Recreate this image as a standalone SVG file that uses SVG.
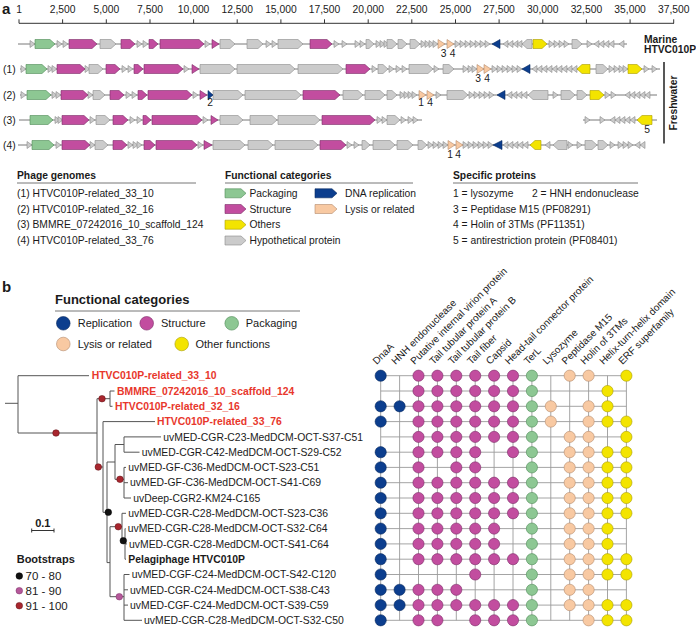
<svg xmlns="http://www.w3.org/2000/svg" xmlns:xlink="http://www.w3.org/1999/xlink" width="696" height="628" viewBox="0 0 696 628">
<style>
text{font-family:"Liberation Sans",Arial,sans-serif;fill:#1a1a1a}
.a{font-size:10.3px}
.ab{font-size:10.3px;font-weight:bold}
.pk{fill:#8dc793;stroke:#4e8a56;stroke-width:.6}
.st{fill:#c24d9f;stroke:#7a2c66;stroke-width:.6}
.hy{fill:#cbcbcb;stroke:#8a8a8a;stroke-width:.6}
.ot{fill:#f3e400;stroke:#a89c00;stroke-width:.6}
.dr{fill:#0c3e8e;stroke:#06295e;stroke-width:.6}
.ly{fill:#f8c9a2;stroke:#b38a6c;stroke-width:.6}
.bb{stroke:#555;stroke-width:.8}
.ax{stroke:#333;stroke-width:1;fill:none}
.tr{stroke:#555;stroke-width:1;fill:none}
.tl{font-size:10.4px}
.red{fill:#e8372c;font-weight:bold}
.grid{stroke:#9a9a9a;stroke-width:.9}
.hd{font-size:10px}
.ul{stroke:#777;stroke-width:1}
</style>
<defs>
<path id="tR" d="M0-3.5L5 0L0 3.5Z"/>
<path id="tL" d="M5-3.5L0 0L5 3.5Z"/>
<circle id="R" r="5.6" fill="#0c3e8e" stroke="#06295e" stroke-width=".6"/>
<circle id="S" r="5.6" fill="#c24d9f" stroke="#7a2c66" stroke-width=".6"/>
<circle id="P" r="5.6" fill="#8dc793" stroke="#4e8a56" stroke-width=".6"/>
<circle id="L" r="5.6" fill="#f8c9a2" stroke="#b38a6c" stroke-width=".6"/>
<circle id="O" r="5.6" fill="#f3e400" stroke="#a89c00" stroke-width=".6"/>
<circle id="b1" r="3.3" fill="#111" stroke="#000" stroke-width=".5"/>
<circle id="b2" r="3.3" fill="#b5589a" stroke="#7a2c66" stroke-width=".5"/>
<circle id="b3" r="3.3" fill="#a8262e" stroke="#5e1015" stroke-width=".5"/>
</defs>
<rect width="696" height="628" fill="#fff"/>

<!-- Panel a -->
<text x="2" y="14" style="font-size:15px;font-weight:bold">a</text>
<g id="axis">
<path class="ax" d="M19 23.3H674M19 19.3V23.3M62.6 19.3V23.3M106.3 19.3V23.3M150 19.3V23.3M193.6 19.3V23.3M237.2 19.3V23.3M280.9 19.3V23.3M324.5 19.3V23.3M368.2 19.3V23.3M411.8 19.3V23.3M455.5 19.3V23.3M499.1 19.3V23.3M542.8 19.3V23.3M586.4 19.3V23.3M630.1 19.3V23.3M673.7 19.3V23.3"/>
<g class="a" text-anchor="middle">
<text x="19" y="13">1</text><text x="62.6" y="13">2,500</text><text x="106.3" y="13">5,000</text><text x="150" y="13">7,500</text><text x="193.6" y="13">10,000</text><text x="237.2" y="13">12,500</text><text x="280.9" y="13">15,000</text><text x="324.5" y="13">17,500</text><text x="368.2" y="13">20,000</text><text x="411.8" y="13">22,500</text><text x="455.5" y="13">25,000</text><text x="499.1" y="13">27,500</text><text x="542.8" y="13">30,000</text><text x="586.4" y="13">32,500</text><text x="630.1" y="13">35,000</text><text x="673.7" y="13">37,500</text>
</g>
</g>

<g id="genome-marine" transform="translate(0,44)">
<path class="bb" d="M18 0H627"/>
<g class="hy">
<use href="#tR" x="30"/><use href="#tR" x="57"/><use href="#tR" x="63"/><use href="#tR" x="137"/><use href="#tR" x="143"/><use href="#tR" x="205"/><use href="#tR" x="266"/><use href="#tR" x="272"/><use href="#tR" x="334"/><use href="#tR" x="342"/><use href="#tR" x="355"/><use href="#tR" x="360"/><use href="#tR" x="376"/><use href="#tR" x="380"/><use href="#tR" x="384"/><use href="#tR" x="421"/><use href="#tR" x="425"/><use href="#tR" x="429"/><use href="#tR" x="433"/><use href="#tR" x="455"/><use href="#tR" x="460"/><use href="#tR" x="465"/><use href="#tR" x="470"/><use href="#tR" x="475"/><use href="#tR" x="480"/><use href="#tR" x="485"/>
<use href="#tL" x="503"/><use href="#tL" x="508"/><use href="#tL" x="513"/><use href="#tL" x="517"/>
<use href="#tR" x="549"/><use href="#tR" x="554"/><use href="#tR" x="559"/><use href="#tR" x="564"/><use href="#tR" x="587"/>
<use href="#tL" x="594"/><use href="#tL" x="599"/><use href="#tL" x="604"/><use href="#tL" x="609"/><use href="#tL" x="619"/>
<path d="M100-4.5H111L116 0L111 4.5H100Z"/>
<path d="M220-4.5H230L235 0L230 4.5H220Z"/>
<path d="M247-4.5H258L263 0L258 4.5H247Z"/>
<path d="M278-4.5H298L303 0L298 4.5H278Z"/>
<path d="M366-4.5H369L374 0L369 4.5H366Z"/>
<path d="M387-4.5H392L397 0L392 4.5H387Z"/>
<path d="M398-4.5H402L407 0L402 4.5H398Z"/>
<path d="M410-4.5H415L420 0L415 4.5H410Z"/>
<path d="M532-4.5H527L522 0L527 4.5H532Z"/>
<path d="M572-4.5H577L582 0L577 4.5H572Z"/>
</g>
<path class="pk" d="M35-4.5H50L55 0L50 4.5H35Z"/>
<path class="st" d="M69-4.5H92L97 0L92 4.5H69Z"/>
<path class="st" d="M121-4.5H130L135 0L130 4.5H121Z"/>
<path class="st" d="M149-4.5H153L158 0L153 4.5H149Z"/>
<path class="st" d="M160-4.5H199L204 0L199 4.5H160Z"/>
<path class="st" d="M212-4.5L219 0L212 4.5Z"/>
<path class="st" d="M310-4.5H327L332 0L327 4.5H310Z"/>
<path class="ly" d="M438-4.5L445 0L438 4.5Z"/>
<path class="ly" d="M447-4.5L454 0L447 4.5Z"/>
<path class="dr" d="M500-4.5L492 0L500 4.5Z"/>
<path class="ot" d="M533-4.5H542L547 0L542 4.5H533Z"/>
<text class="a" x="443.5" y="13" text-anchor="middle">3</text><text class="a" x="452.5" y="13" text-anchor="middle">4</text>
</g>

<g id="genome-1" transform="translate(0,69)">
<path class="bb" d="M20 0H660"/>
<g class="hy">
<use href="#tR" x="21"/><use href="#tR" x="48"/><use href="#tR" x="52"/><use href="#tR" x="85"/><use href="#tR" x="122"/><use href="#tR" x="128"/><use href="#tR" x="184"/><use href="#tR" x="372"/><use href="#tR" x="389"/><use href="#tR" x="396"/><use href="#tR" x="402"/><use href="#tR" x="434"/><use href="#tR" x="463"/><use href="#tR" x="468"/><use href="#tR" x="472"/>
<use href="#tR" x="492"/><use href="#tR" x="497"/><use href="#tR" x="502"/><use href="#tR" x="507"/><use href="#tR" x="512"/><use href="#tR" x="517"/>
<use href="#tL" x="532"/><use href="#tL" x="537"/><use href="#tL" x="542"/><use href="#tL" x="547"/><use href="#tL" x="552"/><use href="#tL" x="557"/><use href="#tL" x="562"/><use href="#tL" x="567"/><use href="#tL" x="572"/>
<use href="#tR" x="609"/><use href="#tR" x="614"/><use href="#tR" x="619"/><use href="#tR" x="623"/><use href="#tR" x="644"/><use href="#tR" x="652"/>
<path d="M89-4.5H98L103 0L98 4.5H89Z"/>
<path d="M200-4.5H230L235 0L230 4.5H200Z"/>
<path d="M237-4.5H290L295 0L290 4.5H237Z"/>
<path d="M298-4.5H338L343 0L338 4.5H298Z"/>
<path d="M378-4.5H383L388 0L383 4.5H378Z"/>
<path d="M409-4.5H428L433 0L428 4.5H409Z"/>
<path d="M443-4.5H449L454 0L449 4.5H443Z"/>
<path d="M596-4.5H603L608 0L603 4.5H596Z"/>
</g>
<path class="pk" d="M26-4.5H42L47 0L42 4.5H26Z"/>
<path class="st" d="M57-4.5H80L85 0L80 4.5H57Z"/>
<path class="st" d="M106-4.5H115L120 0L115 4.5H106Z"/>
<path class="st" d="M134-4.5H138L143 0L138 4.5H134Z"/>
<path class="st" d="M144-4.5H178L183 0L178 4.5H144Z"/>
<path class="st" d="M192-4.5L199 0L192 4.5Z"/>
<path class="st" d="M346-4.5H365L370 0L365 4.5H346Z"/>
<path class="ly" d="M477-4.5L484 0L477 4.5Z"/>
<path class="ly" d="M484-4.5L491 0L484 4.5Z"/>
<path class="dr" d="M530-4.5L522 0L530 4.5Z"/>
<path class="ot" d="M590-4.5H582L577 0L582 4.5H590Z"/>
<path class="ot" d="M628-4.5H637L642 0L637 4.5H628Z"/>
<text class="a" x="478" y="13" text-anchor="middle">3</text><text class="a" x="487" y="13" text-anchor="middle">4</text>
</g>

<g id="genome-2" transform="translate(0,95)">
<path class="bb" d="M20 0H657"/>
<g class="hy">
<use href="#tR" x="21"/><use href="#tR" x="52"/><use href="#tR" x="56"/><use href="#tR" x="88"/><use href="#tR" x="126"/><use href="#tR" x="132"/><use href="#tR" x="193"/><use href="#tR" x="400"/><use href="#tR" x="404"/><use href="#tR" x="408"/><use href="#tR" x="412"/><use href="#tR" x="436"/>
<use href="#tR" x="469"/><use href="#tR" x="474"/><use href="#tR" x="479"/><use href="#tR" x="484"/><use href="#tR" x="489"/>
<use href="#tL" x="507"/><use href="#tL" x="512"/><use href="#tL" x="517"/><use href="#tL" x="522"/>
<use href="#tR" x="553"/><use href="#tR" x="605"/><use href="#tR" x="611"/>
<use href="#tL" x="625"/><use href="#tL" x="630"/><use href="#tL" x="635"/><use href="#tL" x="640"/><use href="#tL" x="645"/>
<path d="M93-4.5H100L105 0L100 4.5H93Z"/>
<path d="M213-4.5H238L243 0L238 4.5H213Z"/>
<path d="M245-4.5H296L301 0L296 4.5H245Z"/>
<path d="M343-4.5H358L363 0L358 4.5H343Z"/>
<path d="M365-4.5H380L385 0L380 4.5H365Z"/>
<path d="M387-4.5H392L397 0L392 4.5H387Z"/>
<path d="M447-4.5H463L468 0L463 4.5H447Z"/>
<path d="M548-4.5H533L528 0L533 4.5H548Z"/>
<path d="M561-4.5H570L575 0L570 4.5H561Z"/>
<path d="M577-4.5H582L587 0L582 4.5H577Z"/>
</g>
<path class="pk" d="M27-4.5H46L51 0L46 4.5H27Z"/>
<path class="st" d="M61-4.5H83L88 0L83 4.5H61Z"/>
<path class="st" d="M110-4.5H119L124 0L119 4.5H110Z"/>
<path class="st" d="M138-4.5H142L147 0L142 4.5H138Z"/>
<path class="st" d="M148-4.5H187L192 0L187 4.5H148Z"/>
<path class="st" d="M200-4.5L207 0L200 4.5Z"/>
<path class="dr" d="M208-4.5L213 0L208 4.5Z"/>
<path class="st" d="M303-4.5H335L340 0L335 4.5H303Z"/>
<path class="ly" d="M419-4.5L426 0L419 4.5Z"/>
<path class="ly" d="M427-4.5L434 0L427 4.5Z"/>
<path class="dr" d="M505-4.5L497 0L505 4.5Z"/>
<path class="ot" d="M590-4.5H599L604 0L599 4.5H590Z"/>
<text class="a" x="210" y="11" text-anchor="middle">2</text>
<text class="a" x="421" y="11" text-anchor="middle">1</text><text class="a" x="430" y="11" text-anchor="middle">4</text>
</g>

<g id="genome-3" transform="translate(0,120)">
<path class="bb" d="M19 0H422M583 0H657"/>
<g class="hy">
<use href="#tR" x="55"/><use href="#tR" x="58"/><use href="#tR" x="90"/><use href="#tR" x="130"/><use href="#tR" x="137"/><use href="#tR" x="203"/><use href="#tR" x="377"/><use href="#tR" x="382"/><use href="#tR" x="401"/><use href="#tR" x="408"/><use href="#tR" x="413"/>
<use href="#tR" x="585"/><use href="#tR" x="600"/>
<use href="#tL" x="610"/><use href="#tL" x="615"/><use href="#tL" x="620"/><use href="#tL" x="625"/><use href="#tL" x="630"/>
<path d="M96-4.5H105L110 0L105 4.5H96Z"/>
<path d="M220-4.5H238L243 0L238 4.5H220Z"/>
<path d="M250-4.5H272L277 0L272 4.5H250Z"/>
<path d="M278-4.5H315L320 0L315 4.5H278Z"/>
<path d="M387-4.5H395L400 0L395 4.5H387Z"/>
</g>
<path class="pk" d="M30-4.5H48L53 0L48 4.5H30Z"/>
<path class="st" d="M62-4.5H84L89 0L84 4.5H62Z"/>
<path class="st" d="M113-4.5H123L128 0L123 4.5H113Z"/>
<path class="st" d="M143-4.5H146L151 0L146 4.5H143Z"/>
<path class="st" d="M152-4.5H197L202 0L197 4.5H152Z"/>
<path class="st" d="M211-4.5L218 0L211 4.5Z"/>
<path class="st" d="M322-4.5H370L375 0L370 4.5H322Z"/>
<path class="ot" d="M652-4.5H642L637 0L642 4.5H652Z"/>
<text class="a" x="647" y="13" text-anchor="middle">5</text>
</g>

<g id="genome-4" transform="translate(0,145)">
<path class="bb" d="M18 0H645"/>
<g class="hy">
<use href="#tR" x="27"/><use href="#tR" x="56"/><use href="#tR" x="90"/><use href="#tR" x="128"/><use href="#tR" x="133"/><use href="#tR" x="137"/><use href="#tR" x="198"/><use href="#tR" x="347"/><use href="#tR" x="354"/>
<use href="#tR" x="428"/><use href="#tR" x="433"/><use href="#tR" x="438"/><use href="#tR" x="443"/>
<use href="#tR" x="463"/><use href="#tR" x="468"/><use href="#tR" x="473"/><use href="#tR" x="478"/><use href="#tR" x="483"/><use href="#tR" x="488"/>
<use href="#tL" x="503"/><use href="#tL" x="508"/><use href="#tL" x="513"/><use href="#tL" x="518"/><use href="#tL" x="523"/><use href="#tL" x="545"/>
<use href="#tR" x="568"/><use href="#tR" x="577"/><use href="#tR" x="610"/><use href="#tR" x="618"/><use href="#tR" x="623"/><use href="#tR" x="628"/>
<use href="#tL" x="635"/><use href="#tL" x="640"/>
<path d="M95-4.5H103L108 0L103 4.5H95Z"/>
<path d="M213-4.5H240L245 0L240 4.5H213Z"/>
<path d="M248-4.5H268L273 0L268 4.5H248Z"/>
<path d="M275-4.5H313L318 0L313 4.5H275Z"/>
<path d="M362-4.5H365L370 0L365 4.5H362Z"/>
<path d="M373-4.5H390L395 0L390 4.5H373Z"/>
<path d="M397-4.5H408L413 0L408 4.5H397Z"/>
<path d="M418-4.5H422L427 0L422 4.5H418Z"/>
<path d="M567-4.5H558L553 0L558 4.5H567Z"/>
<path d="M585-4.5H592L597 0L592 4.5H585Z"/>
<path d="M598-4.5H603L608 0L603 4.5H598Z"/>
</g>
<path class="pk" d="M32-4.5H49L54 0L49 4.5H32Z"/>
<path class="st" d="M62-4.5H85L90 0L85 4.5H62Z"/>
<path class="st" d="M113-4.5H122L127 0L122 4.5H113Z"/>
<path class="st" d="M144-4.5H150L155 0L150 4.5H144Z"/>
<path class="st" d="M156-4.5H192L197 0L192 4.5H156Z"/>
<path class="st" d="M204-4.5L212 0L204 4.5Z"/>
<path class="st" d="M320-4.5H341L346 0L341 4.5H320Z"/>
<path class="ly" d="M448-4.5L455 0L448 4.5Z"/>
<path class="ly" d="M456-4.5L463 0L456 4.5Z"/>
<path class="dr" d="M502-4.5L493 0L502 4.5Z"/>
<path class="ot" d="M541-4.5H535L530 0L535 4.5H541Z"/>
<text class="a" x="450" y="13" text-anchor="middle">1</text><text class="a" x="458" y="13" text-anchor="middle">4</text>
</g>

<g id="row-labels" class="a">
<text x="3" y="72.7">(1)</text><text x="3" y="98.7">(2)</text><text x="3" y="123.7">(3)</text><text x="3" y="148.7">(4)</text>
</g>
<g id="group-labels">
<text class="ab" x="644" y="43">Marine</text><text class="ab" x="644" y="52.5">HTVC010P</text>
<path d="M664 62V143.5" stroke="#111" stroke-width="1.4"/>
<text class="ab" transform="translate(677,103) rotate(-90)" text-anchor="middle">Freshwater</text>
</g>

<g id="legend-genomes">
<text class="ab" x="17" y="178.5">Phage genomes</text>
<path class="ul" d="M17 183H196"/>
<text class="a" x="17" y="197">(1) HTVC010P-related_33_10</text>
<text class="a" x="17" y="212.7">(2) HTVC010P-related_32_16</text>
<text class="a" x="17" y="228.4">(3) BMMRE_07242016_10_scaffold_124</text>
<text class="a" x="17" y="244.2">(4) HTVC010P-related_33_76</text>
</g>
<g id="legend-functions-a">
<text class="ab" x="225" y="178.5">Functional categories</text>
<path class="ul" d="M225 183H413"/>
<path class="pk" d="M225 188.8H241L246 193.3L241 197.8H225Z"/>
<path class="st" d="M225 204.5H241L246 209L241 213.5H225Z"/>
<path class="ot" d="M225 220.2H241L246 224.7L241 229.2H225Z"/>
<path class="hy" d="M225 236H241L246 240.5L241 245H225Z"/>
<path class="dr" d="M315 188.8H332L337 193.3L332 197.8H315Z"/>
<path class="ly" d="M315 204.5H332L337 209L332 213.5H315Z"/>
<text class="a" x="249.5" y="197">Packaging</text>
<text class="a" x="249.5" y="212.7">Structure</text>
<text class="a" x="249.5" y="228.4">Others</text>
<text class="a" x="249.5" y="244.2">Hypothetical protein</text>
<text class="a" x="345" y="197">DNA replication</text>
<text class="a" x="345" y="212.7">Lysis or related</text>
</g>
<g id="legend-specific">
<text class="ab" x="453" y="178.5">Specific proteins</text>
<path class="ul" d="M453 183H638"/>
<text class="a" x="453" y="197">1 = lysozyme</text>
<text class="a" x="532" y="197">2 = HNH endonuclease</text>
<text class="a" x="453" y="212.7">3 = Peptidase M15 (PF08291)</text>
<text class="a" x="453" y="228.4">4 = Holin of 3TMs (PF11351)</text>
<text class="a" x="453" y="244.2">5 = antirestriction protein (PF08401)</text>
</g>

<!-- Panel b -->
<text x="2" y="292" style="font-size:15px;font-weight:bold">b</text>
<g id="legend-functions-b" style="font-size:11px">
<text x="55" y="303.6" style="font-size:13px;font-weight:bold">Functional categories</text>
<path class="ul" d="M55 311H300"/>
<circle cx="63.3" cy="323.3" r="6.8" fill="#0c3e8e" stroke="#06295e" stroke-width=".6"/>
<circle cx="146.7" cy="323.3" r="6.8" fill="#c24d9f" stroke="#7a2c66" stroke-width=".6"/>
<circle cx="231.7" cy="323.3" r="6.8" fill="#8dc793" stroke="#4e8a56" stroke-width=".6"/>
<circle cx="63.3" cy="344" r="6.8" fill="#f8c9a2" stroke="#b38a6c" stroke-width=".6"/>
<circle cx="181.7" cy="344" r="6.8" fill="#f3e400" stroke="#a89c00" stroke-width=".6"/>
<text x="77.7" y="327.3">Replication</text>
<text x="161" y="327.3">Structure</text>
<text x="245.7" y="327.3">Packaging</text>
<text x="77.7" y="348">Lysis or related</text>
<text x="195.5" y="348">Other functions</text>
</g>

<g id="tree-connectors">
<path class="tr" d="M5 403.3H18M18 375.7V433M18 375.7H89M18 433H97M97 398.7V467M97 398.7H110M110 391V406.3M110 391H114.5M110 406.3H112.5M97 467H103M103 421.6V512.3M103 421.6H155M103 512.3H107M107 462V562.6M107 462H115M115 444.5V479.3M115 444.5H124M124 436.9V452.2M124 436.9H161M124 452.2H139.5M115 479.3H124M124 467.4V498M124 467.4H126M124 482.7H128M124 498H131M107 562.6H110M110 526.7V596.7M110 526.7H122M122 513.3V540.7M122 513.3H126M122 540.7H125M125 528.6V559.2M125 528.6H125.5M125 543.9H127M125 559.2H126M110 596.7H124M124 574.5V620.3M124 574.5H129.5M124 589.8H128M124 605.1H128M124 620.3H142"/>
</g>
<g id="tree-bootstraps">
<use href="#b3" x="56" y="433"/>
<use href="#b3" x="102" y="398.7"/>
<use href="#b3" x="98.3" y="467"/>
<use href="#b3" x="120" y="479.3"/>
<use href="#b1" x="108.3" y="512.3"/>
<use href="#b3" x="118.3" y="526.7"/>
<use href="#b1" x="123.3" y="540.7"/>
<use href="#b2" x="119.3" y="596.7"/>
</g>
<g id="tree-labels" class="tl">
<text class="red" x="91.7" y="379.4">HTVC010P-related_33_10</text>
<text class="red" x="117" y="394.7">BMMRE_07242016_10_scaffold_124</text>
<text class="red" x="115" y="410">HTVC010P-related_32_16</text>
<text class="red" x="157" y="425.3">HTVC010P-related_33_76</text>
<text x="163.3" y="440.6">uvMED-CGR-C23-MedDCM-OCT-S37-C51</text>
<text x="141.7" y="455.9">uvMED-CGR-C42-MedDCM-OCT-S29-C52</text>
<text x="128.3" y="471.1">uvMED-GF-C36-MedDCM-OCT-S23-C51</text>
<text x="130" y="486.4">uvMED-GF-C36-MedDCM-OCT-S41-C69</text>
<text x="133.3" y="501.7">uvDeep-CGR2-KM24-C165</text>
<text x="128.3" y="517">uvMED-CGR-C28-MedDCM-OCT-S23-C36</text>
<text x="127.7" y="532.3">uvMED-CGR-C28-MedDCM-OCT-S32-C64</text>
<text x="129" y="547.6">uvMED-CGR-C28-MedDCM-OCT-S41-C64</text>
<text x="128.3" y="562.9" font-weight="bold">Pelagiphage HTVC010P</text>
<text x="131.7" y="578.2">uvMED-CGF-C24-MedDCM-OCT-S42-C120</text>
<text x="130" y="593.5">uvMED-CGR-C24-MedDCM-OCT-S38-C43</text>
<text x="130" y="608.8">uvMED-CGF-C24-MedDCM-OCT-S39-C59</text>
<text x="144" y="624">uvMED-CGR-C28-MedDCM-OCT-S32-C50</text>
</g>

<g id="scale-bar">
<text x="42.8" y="527" text-anchor="middle" style="font-size:11px;font-weight:bold">0.1</text>
<path d="M31.7 530.5H54M31.7 528.5V532.5M54 528.5V532.5" stroke="#333" stroke-width="1" fill="none"/>
</g>
<g id="legend-bootstraps" style="font-size:11.5px">
<text x="16.7" y="563.3" style="font-size:11px;font-weight:bold">Bootstraps</text>
<use href="#b1" x="19.3" y="576"/><use href="#b2" x="19.3" y="590.7"/><use href="#b3" x="19.3" y="605.7"/>
<text x="25.5" y="580">70 - 80</text>
<text x="25.5" y="594.7">81 - 90</text>
<text x="25.5" y="609.7">91 - 100</text>
</g>

<g id="matrix-grid" class="grid">
<path d="M380.7 375.7H626.4M380.7 391H626.4M380.7 406.3H626.4M380.7 421.6H626.4M380.7 436.9H626.4M380.7 452.2H626.4M380.7 467.4H626.4M380.7 482.7H626.4M380.7 498H626.4M380.7 513.3H626.4M380.7 528.6H626.4M380.7 543.9H626.4M380.7 559.2H626.4M380.7 574.5H626.4M380.7 589.8H626.4M380.7 605.1H626.4M380.7 620.3H626.4M380.7 375.7V620.3M399.6 375.7V620.3M418.5 375.7V620.3M437.4 375.7V620.3M456.3 375.7V620.3M475.2 375.7V620.3M494.1 375.7V620.3M513 375.7V620.3M531.9 375.7V620.3M550.8 375.7V620.3M569.7 375.7V620.3M588.6 375.7V620.3M607.5 375.7V620.3M626.4 375.7V620.3"/>
</g>
<g id="matrix-headers" class="hd">
<text transform="translate(376.7,365) rotate(-45)">DnaA</text>
<text transform="translate(395.6,365) rotate(-45)">HNH endonuclease</text>
<text transform="translate(414.5,365) rotate(-45)">Putative internal virion protein</text>
<text transform="translate(433.4,365) rotate(-45)">Tail tubular protein A</text>
<text transform="translate(452.3,365) rotate(-45)">Tail tubular protein B</text>
<text transform="translate(471.2,365) rotate(-45)">Tail fiber</text>
<text transform="translate(490.1,365) rotate(-45)">Capsid</text>
<text transform="translate(509,365) rotate(-45)">Head-tail connector protein</text>
<text transform="translate(527.9,365) rotate(-45)">TerL</text>
<text transform="translate(546.8,365) rotate(-45)">Lysozyme</text>
<text transform="translate(565.7,365) rotate(-45)">Peptidase M15</text>
<text transform="translate(584.6,365) rotate(-45)">Holin of 3TMs</text>
<text transform="translate(603.5,365) rotate(-45)">Helix-turn-helix domain</text>
<text transform="translate(622.4,365) rotate(-45)">ERF superfamily</text>
</g>
<g id="matrix-cells">
<g id="m0"><use href="#R" x="380.7" y="375.7"/><use href="#S" x="418.5" y="375.7"/><use href="#S" x="437.4" y="375.7"/><use href="#S" x="456.3" y="375.7"/><use href="#S" x="475.2" y="375.7"/><use href="#S" x="494.1" y="375.7"/><use href="#S" x="513" y="375.7"/><use href="#P" x="531.9" y="375.7"/><use href="#L" x="569.7" y="375.7"/><use href="#L" x="588.6" y="375.7"/><use href="#O" x="626.4" y="375.7"/></g>
<g id="m1"><use href="#S" x="418.5" y="391"/><use href="#S" x="437.4" y="391"/><use href="#S" x="456.3" y="391"/><use href="#S" x="475.2" y="391"/><use href="#S" x="494.1" y="391"/><use href="#S" x="513" y="391"/><use href="#P" x="531.9" y="391"/><use href="#O" x="607.5" y="391"/></g>
<g id="m2"><use href="#R" x="380.7" y="406.3"/><use href="#R" x="399.6" y="406.3"/><use href="#S" x="418.5" y="406.3"/><use href="#S" x="437.4" y="406.3"/><use href="#S" x="456.3" y="406.3"/><use href="#S" x="475.2" y="406.3"/><use href="#S" x="494.1" y="406.3"/><use href="#S" x="513" y="406.3"/><use href="#P" x="531.9" y="406.3"/><use href="#L" x="550.8" y="406.3"/><use href="#L" x="588.6" y="406.3"/><use href="#O" x="607.5" y="406.3"/></g>
<g id="m3"><use href="#R" x="380.7" y="421.6"/><use href="#S" x="418.5" y="421.6"/><use href="#S" x="437.4" y="421.6"/><use href="#S" x="456.3" y="421.6"/><use href="#S" x="475.2" y="421.6"/><use href="#S" x="494.1" y="421.6"/><use href="#S" x="513" y="421.6"/><use href="#P" x="531.9" y="421.6"/><use href="#L" x="550.8" y="421.6"/><use href="#L" x="588.6" y="421.6"/><use href="#O" x="607.5" y="421.6"/><use href="#O" x="626.4" y="421.6"/></g>
<g id="m4"><use href="#S" x="418.5" y="436.9"/><use href="#S" x="437.4" y="436.9"/><use href="#S" x="456.3" y="436.9"/><use href="#S" x="475.2" y="436.9"/><use href="#S" x="494.1" y="436.9"/><use href="#S" x="513" y="436.9"/><use href="#P" x="531.9" y="436.9"/><use href="#L" x="569.7" y="436.9"/><use href="#L" x="588.6" y="436.9"/><use href="#O" x="626.4" y="436.9"/></g>
<g id="m5"><use href="#R" x="380.7" y="452.2"/><use href="#S" x="418.5" y="452.2"/><use href="#S" x="437.4" y="452.2"/><use href="#S" x="456.3" y="452.2"/><use href="#S" x="475.2" y="452.2"/><use href="#S" x="513" y="452.2"/><use href="#P" x="531.9" y="452.2"/><use href="#L" x="569.7" y="452.2"/><use href="#L" x="588.6" y="452.2"/><use href="#O" x="607.5" y="452.2"/><use href="#O" x="626.4" y="452.2"/></g>
<g id="m6"><use href="#R" x="380.7" y="467.4"/><use href="#S" x="418.5" y="467.4"/><use href="#S" x="456.3" y="467.4"/><use href="#S" x="475.2" y="467.4"/><use href="#P" x="531.9" y="467.4"/><use href="#L" x="569.7" y="467.4"/><use href="#L" x="588.6" y="467.4"/><use href="#O" x="607.5" y="467.4"/><use href="#O" x="626.4" y="467.4"/></g>
<g id="m7"><use href="#R" x="380.7" y="482.7"/><use href="#S" x="418.5" y="482.7"/><use href="#S" x="437.4" y="482.7"/><use href="#S" x="456.3" y="482.7"/><use href="#S" x="475.2" y="482.7"/><use href="#S" x="494.1" y="482.7"/><use href="#S" x="513" y="482.7"/><use href="#P" x="531.9" y="482.7"/><use href="#L" x="569.7" y="482.7"/><use href="#L" x="588.6" y="482.7"/><use href="#O" x="607.5" y="482.7"/><use href="#O" x="626.4" y="482.7"/></g>
<g id="m8"><use href="#R" x="380.7" y="498"/><use href="#S" x="418.5" y="498"/><use href="#S" x="437.4" y="498"/><use href="#S" x="456.3" y="498"/><use href="#S" x="475.2" y="498"/><use href="#S" x="494.1" y="498"/><use href="#S" x="513" y="498"/><use href="#P" x="531.9" y="498"/><use href="#L" x="569.7" y="498"/><use href="#L" x="588.6" y="498"/><use href="#O" x="607.5" y="498"/><use href="#O" x="626.4" y="498"/></g>
<g id="m9"><use href="#R" x="380.7" y="513.3"/><use href="#S" x="418.5" y="513.3"/><use href="#S" x="437.4" y="513.3"/><use href="#S" x="456.3" y="513.3"/><use href="#S" x="475.2" y="513.3"/><use href="#S" x="494.1" y="513.3"/><use href="#S" x="513" y="513.3"/><use href="#P" x="531.9" y="513.3"/><use href="#L" x="569.7" y="513.3"/><use href="#L" x="588.6" y="513.3"/><use href="#O" x="607.5" y="513.3"/><use href="#O" x="626.4" y="513.3"/></g>
<g id="m10"><use href="#R" x="380.7" y="528.6"/><use href="#S" x="418.5" y="528.6"/><use href="#S" x="437.4" y="528.6"/><use href="#S" x="456.3" y="528.6"/><use href="#S" x="475.2" y="528.6"/><use href="#S" x="494.1" y="528.6"/><use href="#P" x="531.9" y="528.6"/><use href="#L" x="569.7" y="528.6"/><use href="#L" x="588.6" y="528.6"/><use href="#O" x="607.5" y="528.6"/></g>
<g id="m11"><use href="#R" x="380.7" y="543.9"/><use href="#S" x="418.5" y="543.9"/><use href="#S" x="437.4" y="543.9"/><use href="#S" x="456.3" y="543.9"/><use href="#S" x="475.2" y="543.9"/><use href="#S" x="494.1" y="543.9"/><use href="#P" x="531.9" y="543.9"/><use href="#L" x="569.7" y="543.9"/><use href="#L" x="588.6" y="543.9"/><use href="#O" x="607.5" y="543.9"/></g>
<g id="m12"><use href="#R" x="380.7" y="559.2"/><use href="#S" x="418.5" y="559.2"/><use href="#S" x="437.4" y="559.2"/><use href="#S" x="456.3" y="559.2"/><use href="#S" x="475.2" y="559.2"/><use href="#S" x="494.1" y="559.2"/><use href="#S" x="513" y="559.2"/><use href="#P" x="531.9" y="559.2"/><use href="#L" x="569.7" y="559.2"/><use href="#L" x="588.6" y="559.2"/><use href="#O" x="607.5" y="559.2"/><use href="#O" x="626.4" y="559.2"/></g>
<g id="m13"><use href="#R" x="380.7" y="574.5"/><use href="#S" x="475.2" y="574.5"/><use href="#P" x="531.9" y="574.5"/><use href="#L" x="569.7" y="574.5"/><use href="#L" x="588.6" y="574.5"/><use href="#O" x="607.5" y="574.5"/><use href="#O" x="626.4" y="574.5"/></g>
<g id="m14"><use href="#R" x="380.7" y="589.8"/><use href="#R" x="399.6" y="589.8"/><use href="#S" x="418.5" y="589.8"/><use href="#S" x="437.4" y="589.8"/><use href="#S" x="456.3" y="589.8"/><use href="#P" x="531.9" y="589.8"/><use href="#L" x="569.7" y="589.8"/><use href="#L" x="588.6" y="589.8"/></g>
<g id="m15"><use href="#R" x="380.7" y="605.1"/><use href="#R" x="399.6" y="605.1"/><use href="#S" x="418.5" y="605.1"/><use href="#S" x="437.4" y="605.1"/><use href="#S" x="456.3" y="605.1"/><use href="#S" x="475.2" y="605.1"/><use href="#S" x="494.1" y="605.1"/><use href="#S" x="513" y="605.1"/><use href="#P" x="531.9" y="605.1"/><use href="#L" x="569.7" y="605.1"/><use href="#L" x="588.6" y="605.1"/><use href="#O" x="607.5" y="605.1"/><use href="#O" x="626.4" y="605.1"/></g>
<g id="m16"><use href="#R" x="380.7" y="620.3"/><use href="#S" x="418.5" y="620.3"/><use href="#S" x="437.4" y="620.3"/><use href="#S" x="475.2" y="620.3"/><use href="#S" x="494.1" y="620.3"/><use href="#S" x="513" y="620.3"/><use href="#P" x="531.9" y="620.3"/><use href="#L" x="588.6" y="620.3"/><use href="#O" x="607.5" y="620.3"/><use href="#O" x="626.4" y="620.3"/></g>
</g>
</svg>
